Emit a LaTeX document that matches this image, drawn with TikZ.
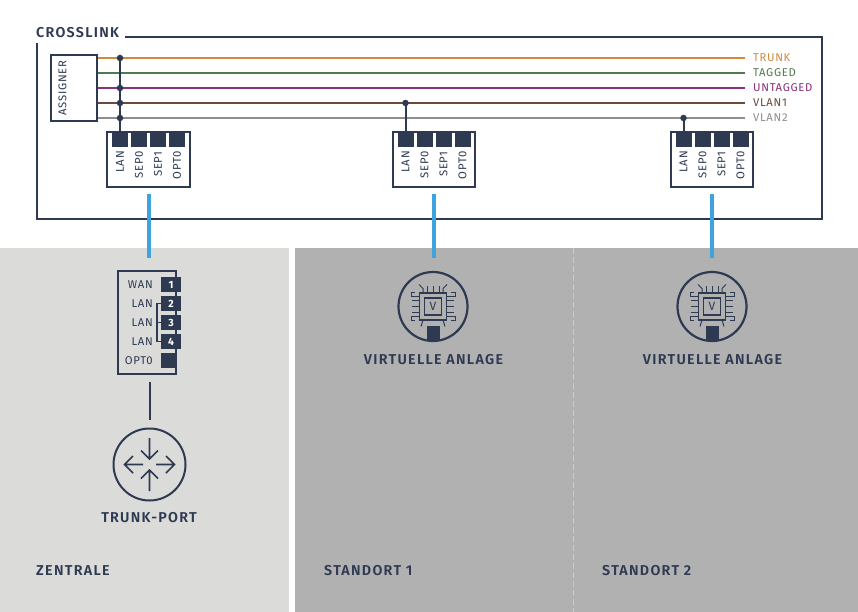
\documentclass[tikz,border=0pt]{standalone}
\usepackage{fontspec}
\setmainfont{Fira Sans}
\newfontfamily\labelfont[LetterSpace=6]{Fira Sans}
\newfontfamily\headfont[LetterSpace=9]{Fira Sans SemiBold}
\definecolor{navy}{HTML}{2E3A52}
\definecolor{wire}{HTML}{3FA4DC}
\definecolor{paleground}{HTML}{DBDCDA}
\definecolor{darkground}{HTML}{B1B1B1}
\definecolor{trunkcol}{HTML}{CF8A3E}
\definecolor{taggedcol}{HTML}{4F7B50}
\definecolor{untaggedcol}{HTML}{8B2F7F}
\definecolor{vlanacol}{HTML}{6A4A3A}
\definecolor{vlanbcol}{HTML}{8E8E8E}
\tikzset{
    small/.style={font=\labelfont\fontsize{11.3}{11}\selectfont,inner sep=0pt},
    head/.style={font=\headfont\fontsize{14.3}{14}\selectfont,text=navy,inner sep=0pt},
    port/.style={fill=navy,inner sep=0pt,minimum width=16pt,minimum height=15pt},
    portbox/.style={draw=navy,line width=2pt,fill=white,inner sep=0pt,minimum width=82.5pt,minimum height=54.5pt},
    bus/.style={navy,line width=2pt},
    dot/.style={circle,fill=navy,inner sep=0pt,minimum size=6.5pt},
}
\begin{document}
\begin{tikzpicture}[x=1pt,y=-1pt]
\useasboundingbox (0,0) rectangle (858,612);
\fill[white] (0,0) rectangle (858,612);
% grounds
\fill[paleground] (0,248) rectangle (289,612);
\fill[darkground] (295,248) rectangle (858,612);
\draw[white!35!darkground,dash pattern=on 6pt off 3pt] (573.5,248) -- (573.5,612);
% crosslink frame
\node[head,anchor=west] (crosslink) at (36,33) {CROSSLINK};
\draw[navy,line width=2pt] (125,37) -- (822,37) -- (822,219.5) -- (37,219.5) -- (37,43);
\node[draw=navy,line width=2pt,fill=white,inner sep=0pt,minimum width=45.5pt,minimum height=65.5pt] (assigner) at (74,88) {};
\node[small,text=navy,rotate=90] at (62.5,88) {ASSIGNER};
% lines
\foreach \nm/\yy/\col/\txt in {trunk/58/trunkcol/TRUNK,tagged/73/taggedcol/TAGGED,untagged/88/untaggedcol/UNTAGGED,vlana/103/vlanacol/VLAN1,vlanb/118/vlanbcol/VLAN2}{
    \coordinate (\nm end) at (745,\yy);
    \node[small,text=\col,anchor=west] (\nm) at (753,\yy) {\txt};
    \draw[\col,line width=2pt] (assigner.east |- \nm end) -- (\nm end);
}
% crosslink port blocks
\foreach \nm/\xx in {blocka/148.5,blockb/434,blockc/712}{
    \node[portbox] (\nm) at (\xx,159.5) {};
    \foreach \dx/\txt [count=\i] in {-28.5/LAN,-9.5/SEP0,9.5/SEP1,28.5/OPT0}{
        \node[port] (\nm p\i) at (\xx+\dx,140) {};
        \node[small,text=navy,rotate=90,anchor=east] at (\xx+\dx,151) {\txt};
    }
    \coordinate (\nm out) at (\xx,258);
    \draw[wire,line width=4pt] ([yshift=-6pt]\nm.south) -- (\nm out);
}
% taps
\coordinate (tapa) at (blockap1 |- trunkend);
\coordinate (tapb) at (blockbp1 |- vlanaend);
\coordinate (tapc) at (blockcp1 |- vlanbend);
\draw[bus] (tapa) -- (blockap1);
\draw[bus] (tapb) -- (blockbp1);
\draw[bus] (tapc) -- (blockcp1);
\foreach \l in {trunkend,untaggedend,vlanaend,vlanbend}
    \node[dot] at (blockap1 |- \l) {};
\node[dot] at (tapb) {};
\node[dot] at (tapc) {};
% switch
\node[draw=navy,line width=2pt,inner sep=0pt,minimum width=57.5pt,minimum height=102.5pt] (switch) at (147,322.5) {};
\foreach \nm/\yy/\num/\txt in {wan/284.5/1/WAN,lana/303.5/2/LAN,lanb/322.5/3/LAN,lanc/341.5/4/LAN}{
    \node[port,minimum width=20pt,text=white,font=\fontsize{10.5}{10}\selectfont\bfseries] (\nm) at (171,\yy) {\num};
    \node[small,text=navy,anchor=east] at (153,\yy) {\txt};
}
\node[port] (opt) at (169,360.5) {};
\node[small,text=navy,anchor=east] at (153,360.5) {OPT0};
\draw[navy,line width=1.5pt] (lana.west) -- ++(-4,0) |- (lanc.west);
\draw[navy,line width=1.5pt] (lanb.west) -- ++(-4,0);
% trunk port
\node[draw=navy,line width=2pt,circle,inner sep=0pt,minimum size=72pt] (router) at (149.5,464.5) {};
\coordinate (switchtail) at (149.5,382);
\draw[navy,line width=2pt] (switchtail) -- (router.north |- 0,420);
\draw[navy,line width=1.6pt,line join=miter]
    (149.5,438) -- (149.5,459) (141,450.5) -- (149.5,459) -- (158,450.5)
    (149.5,491) -- (149.5,470) (141,478.5) -- (149.5,470) -- (158,478.5)
    (143,464.5) -- (125,464.5) (133,456) -- (124.5,464.5) -- (133,473)
    (156,464.5) -- (174,464.5) (166,456) -- (174.5,464.5) -- (166,473);
\node[head] (trunkport) at (149,518) {TRUNK-PORT};
\node[head,anchor=west] (zentrale) at (36,571) {ZENTRALE};
% virtual plants
\foreach \nm/\xx/\txt/\lx in {anlagea/433/STANDORT 1/324,anlageb/712/STANDORT 2/602}{
    \begin{scope}[shift={(\xx,306.5)}]
        \node[draw=navy,line width=2.2pt,circle,inner sep=0pt,minimum size=69pt] (\nm) at (0,0) {};
        \draw[navy,line width=1.3pt] (-13.5,-13.5) rectangle (13.5,13.5);
        \draw[navy,line width=1.3pt] (-8.5,-8.5) rectangle (8.5,8.5);
        \node[text=navy,inner sep=0pt,font=\fontsize{12}{12}\selectfont] at (0,0) {V};
        \foreach \t in {-6,0,6}{
            \draw[navy,line width=1pt] (\t,-13.5) -- (\t,-21);
            \draw[navy,line width=1pt] (-13.5,\t) -- (-21,\t);
            \draw[navy,line width=1pt] (13.5,\t) -- (21,\t);
        }
        \draw[navy,line width=1pt] (-10,-13.5) -- (-10,-18) -- (-14,-22) (10,-13.5) -- (10,-18) -- (14,-22);
        \draw[navy,line width=1pt] (-13.5,-10) -- (-22,-10) -- (-22,-14) -- (-18,-14) (13.5,-10) -- (22,-10) -- (22,-14) -- (18,-14);
        \draw[navy,line width=1pt] (-13.5,10) -- (-22,10) -- (-22,14) -- (-18,14) (13.5,10) -- (22,10) -- (22,14) -- (18,14);
        \draw[navy,line width=1pt] (-10,13.5) -- (-12,20) (10,13.5) -- (12,20);
        \fill[navy] (-6.5,19.5) rectangle (6.5,34.5);
    \end{scope}
    \node[head] at (\xx+.5,360) {VIRTUELLE ANLAGE};
    \node[head,anchor=west] at (\lx,571) {\txt};
}
\end{tikzpicture}
\end{document}
